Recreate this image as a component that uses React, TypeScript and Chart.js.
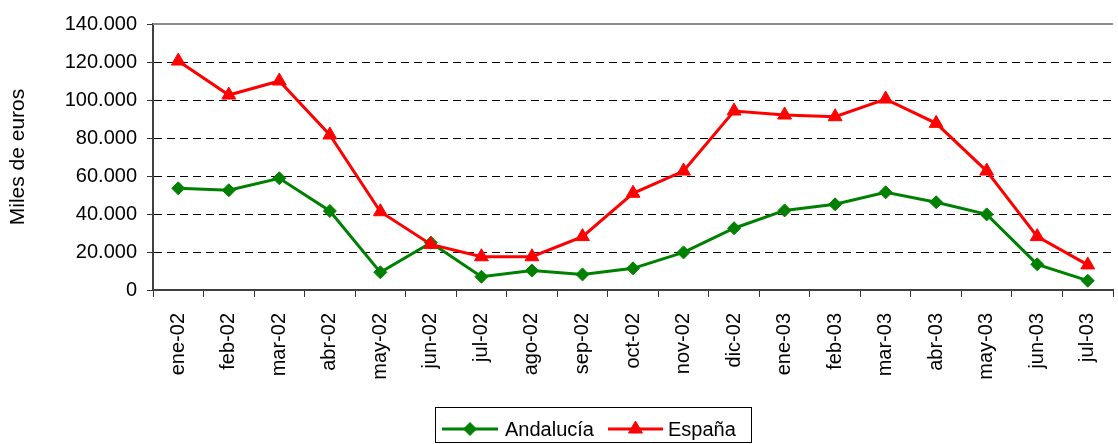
import React, { useEffect, useRef } from "react";
import { Chart, registerables } from "chart.js";

Chart.register(...registerables);

const categories = [
  "ene-02", "feb-02", "mar-02", "abr-02", "may-02", "jun-02", "jul-02", "ago-02", "sep-02", "oct-02",
  "nov-02", "dic-02", "ene-03", "feb-03", "mar-03", "abr-03", "may-03", "jun-03", "jul-03",
];
const andalucia = [
  53500, 52500, 58800, 41600, 9300, 24900, 7000, 10200, 8200, 11400,
  19800, 32500, 41900, 45100, 51400, 46200, 39800, 13500, 4900,
];
const espana = [
  120500, 102600, 110000, 81600, 41200, 24000, 17500, 17500, 28100, 50900,
  62600, 94200, 92100, 91200, 100500, 87700, 62600, 28100, 13200,
];
const seriesNames = ["Andalucía", "España"];
const yTitle = "Miles de euros";
const yMin = 0;
const yMax = 140000;
const yStep = 20000;

const GREEN = "#008000";
const RED = "#FF0000";
const FONT = '"Liberation Sans", Arial, sans-serif';

function fmt(v: number): string {
  const s = Math.round(v).toString();
  return s.replace(/\B(?=(\d{3})+(?!\d))/g, ".");
}

function drawMarker(ctx: CanvasRenderingContext2D, style: string, r: number, x: number, y: number) {
  ctx.beginPath();
  if (style === "rectRot") {
    ctx.moveTo(x - r, y);
    ctx.lineTo(x, y - r);
    ctx.lineTo(x + r, y);
    ctx.lineTo(x, y + r);
  } else {
    ctx.moveTo(x, y - r);
    ctx.lineTo(x + r * Math.sin(Math.PI / 3), y + r / 2);
    ctx.lineTo(x - r * Math.sin(Math.PI / 3), y + r / 2);
  }
  ctx.closePath();
  ctx.fill();
  ctx.stroke();
}

const decorPlugin = {
  id: "decor",
  afterDraw(chart: any) {
    const ctx = chart.ctx;
    const area = chart.chartArea;
    ctx.save();
    // top plot-area border
    ctx.strokeStyle = "#8c8c8c";
    ctx.lineWidth = 2;
    ctx.beginPath();
    ctx.moveTo(area.left, area.top);
    ctx.lineTo(area.right, area.top);
    ctx.stroke();

    // legend box
    const bx = 435.5, by = 407.5, bw = 316, bh = 35;
    ctx.strokeStyle = "#000";
    ctx.lineWidth = 1;
    ctx.strokeRect(bx, by, bw, bh);
    const cy = 429;
    const ds = chart.data.datasets;
    const items = [
      { x0: 442, x1: 498, tx: 505, color: GREEN, style: "rectRot", r: 6.5, label: ds[0].label },
      { x0: 608, x1: 663, tx: 668, color: RED, style: "triangle", r: 8, label: ds[1].label },
    ];
    for (const it of items) {
      ctx.strokeStyle = it.color;
      ctx.lineWidth = 3;
      ctx.beginPath();
      ctx.moveTo(it.x0, cy);
      ctx.lineTo(it.x1, cy);
      ctx.stroke();
      ctx.fillStyle = it.color;
      ctx.strokeStyle = it.color;
      ctx.lineWidth = 1;
      drawMarker(ctx, it.style, it.r, (it.x0 + it.x1) / 2, cy);
      ctx.fillStyle = "#000";
      ctx.font = `20px ${FONT}`;
      ctx.textAlign = "left";
      ctx.textBaseline = "middle";
      ctx.fillText(it.label, it.tx, cy + 1);
    }
    ctx.restore();
  },
};

export default function App() {
  const ref = useRef<HTMLCanvasElement | null>(null);

  useEffect(() => {
    if (!ref.current) return;
    const chart = new Chart(ref.current, {
      type: "line",
      data: {
        labels: categories,
        datasets: [
          {
            label: seriesNames[0],
            data: andalucia,
            borderColor: GREEN,
            backgroundColor: GREEN,
            borderWidth: 3,
            pointStyle: "rectRot",
            pointRadius: 6.5,
            pointBorderWidth: 1,
            pointBackgroundColor: GREEN,
            pointBorderColor: GREEN,
            tension: 0,
            order: 1,
          },
          {
            label: seriesNames[1],
            data: espana,
            borderColor: RED,
            backgroundColor: RED,
            borderWidth: 3,
            pointStyle: "triangle",
            pointRadius: 8,
            pointBorderWidth: 1,
            pointBackgroundColor: RED,
            pointBorderColor: RED,
            tension: 0,
            order: 0,
          },
        ],
      },
      options: {
        responsive: false,
        animation: false,
        devicePixelRatio: 1,
        layout: { padding: { top: 24, right: 0, bottom: 0, left: 0 } },
        plugins: {
          legend: { display: false },
          tooltip: { enabled: false },
        },
        scales: {
          x: {
            type: "category",
            offset: true,
            grid: {
              offset: true,
              drawOnChartArea: false,
              drawTicks: true,
              tickLength: 7,
              tickColor: "#333",
              tickWidth: 1,
            },
            border: { display: true, color: "#404040", width: 2 },
            ticks: {
              autoSkip: false,
              minRotation: 90,
              maxRotation: 90,
              padding: 16,
              color: "#000",
              font: { family: FONT, size: 20 },
            },
            afterFit: (scale: any) => {
              scale.height = 154;
            },
          },
          y: {
            min: yMin,
            max: yMax,
            grid: {
              color: (c: any) =>
                c.tick && (c.tick.value === yMin || c.tick.value === yMax) ? "rgba(0,0,0,0)" : "#000",
              lineWidth: 1,
              tickLength: 6,
              tickColor: "#333",
              tickWidth: 1,
              tickBorderDash: [],
            },
            border: { display: true, color: "#404040", width: 2, dash: [8, 5] },
            ticks: {
              stepSize: yStep,
              padding: 10,
              color: "#000",
              font: { family: FONT, size: 20 },
              callback: (v: any) => fmt(Number(v)),
            },
            title: {
              display: true,
              text: yTitle,
              color: "#000",
              font: { family: FONT, size: 21 },
              padding: { top: 6, bottom: 0 },
            },
            afterFit: (scale: any) => {
              scale.width = 153;
            },
          },
        },
      },
      plugins: [decorPlugin],
    });
    return () => chart.destroy();
  }, []);

  return (
    <div style={{ position: "fixed", left: 0, top: 0, width: 1118, height: 444, overflow: "hidden", background: "#fff" }}>
      <canvas ref={ref} width={1128} height={444} style={{ display: "block" }} />
    </div>
  );
}
